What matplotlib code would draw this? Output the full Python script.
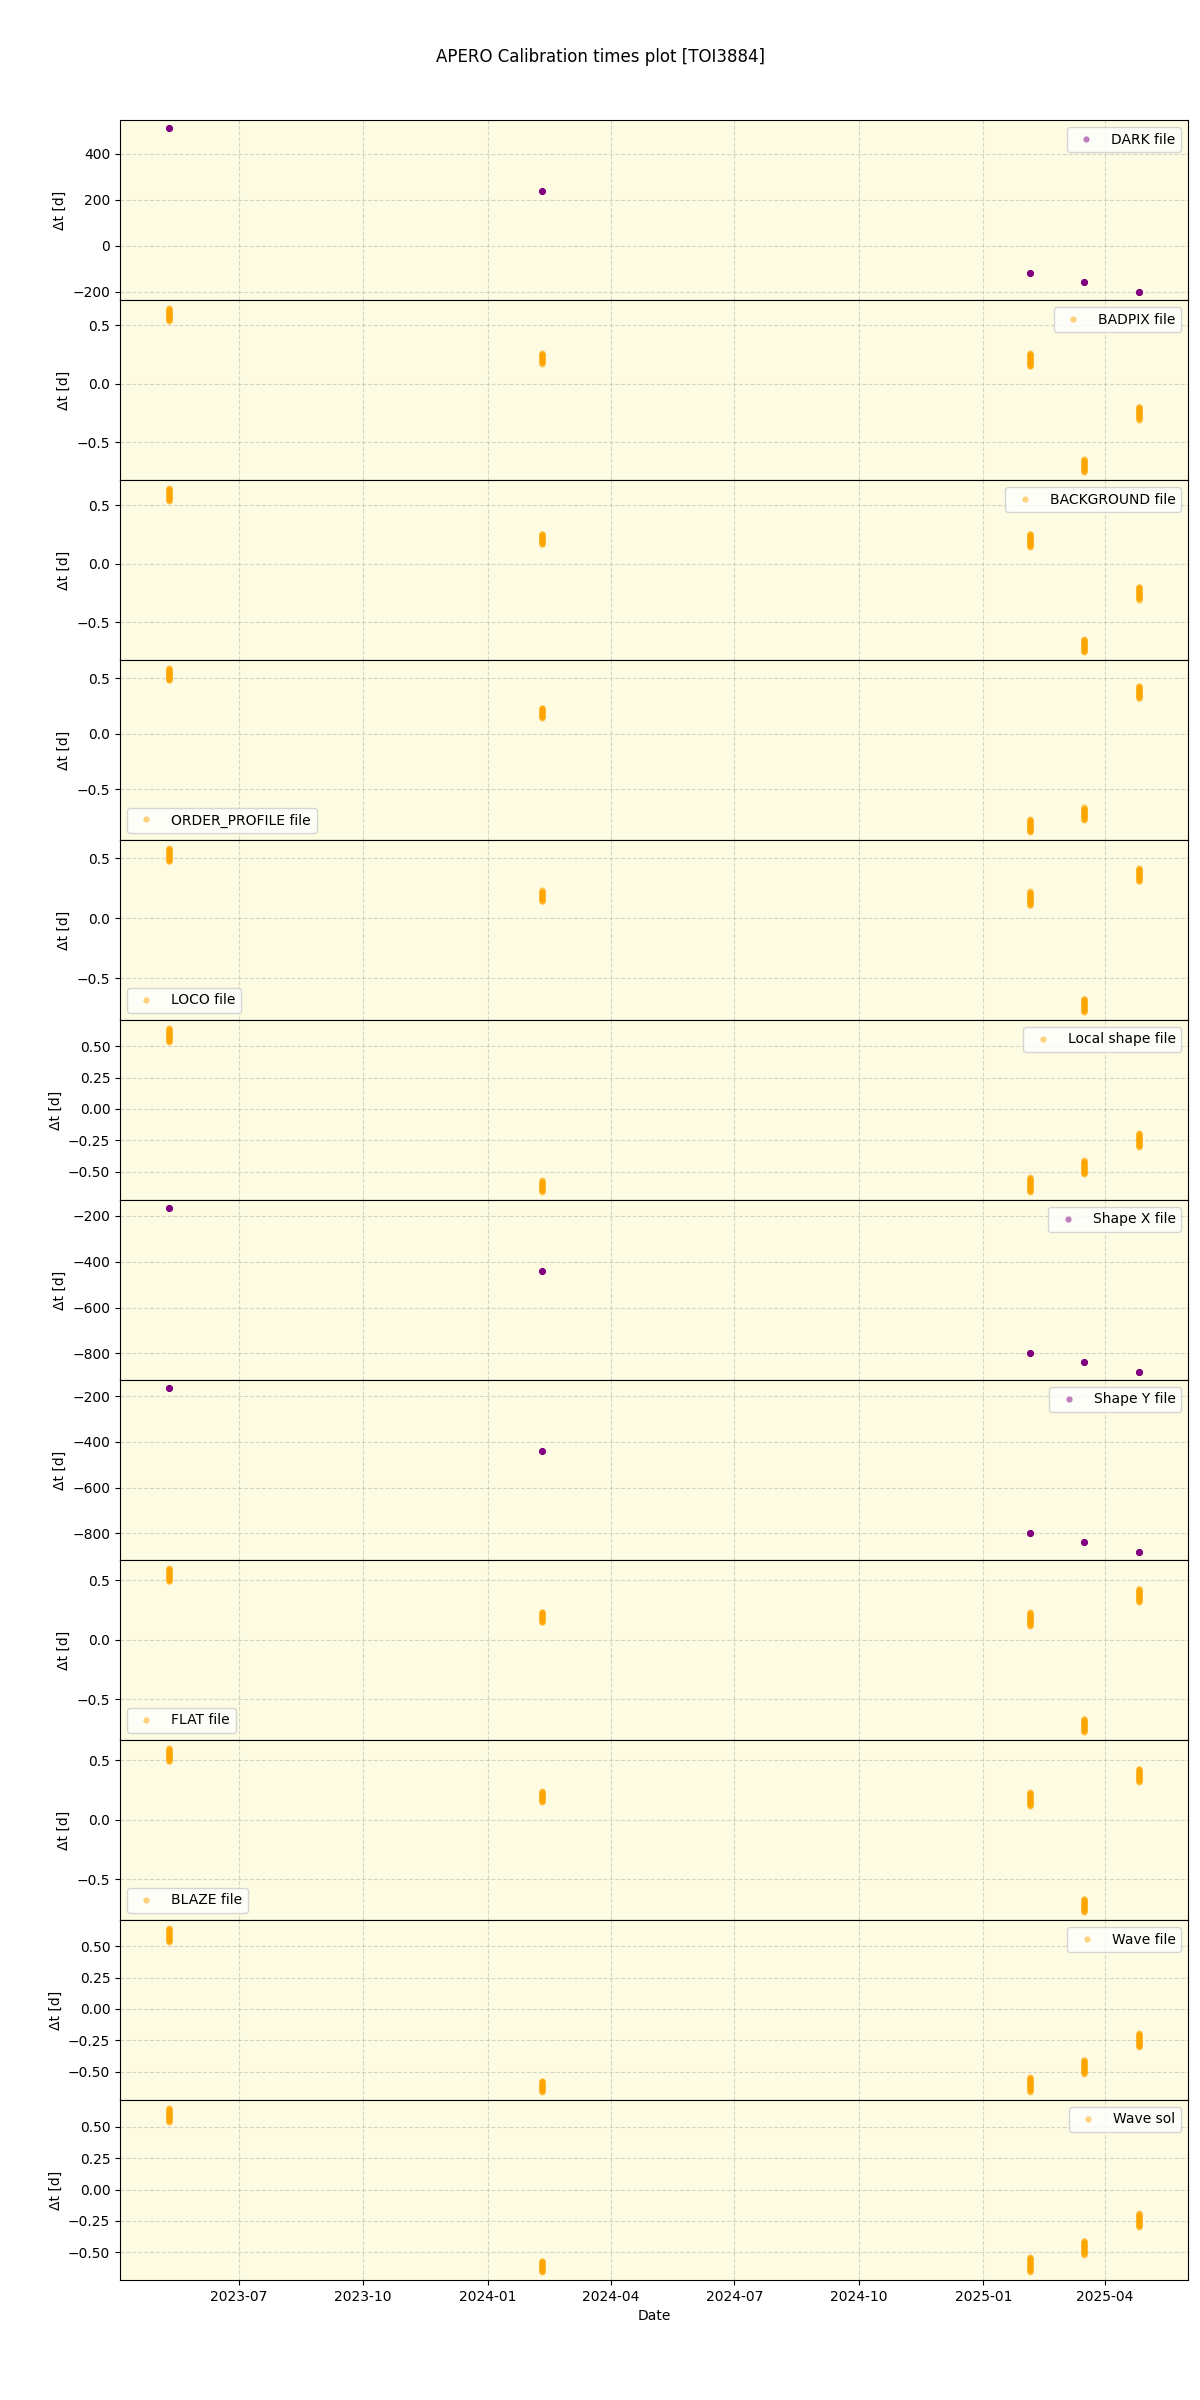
import matplotlib
matplotlib.use("Agg")
import matplotlib.pyplot as plt
import matplotlib.dates as mdates
import numpy as np
import pandas as pd

# observing nights (start of each sequence)
nights = ["2023-05-10 05:00", "2024-02-10 05:00", "2025-02-04 05:00",
          "2025-03-16 05:00", "2025-04-26 05:00"]

# time of each exposure after the start of its night [d]
obs_offsets = [
    [0.000, 0.005, 0.010, 0.015, 0.020, 0.025, 0.030, 0.035, 0.040, 0.045, 0.050, 0.055,
     0.060, 0.065, 0.070, 0.075, 0.080, 0.085, 0.090, 0.095, 0.100, 0.105, 0.110],
    [0.000, 0.005, 0.010, 0.015, 0.020, 0.025, 0.030, 0.035, 0.040, 0.045, 0.050, 0.055,
     0.060, 0.065, 0.070, 0.075, 0.080, 0.085, 0.090],
    [0.000, 0.005, 0.010, 0.015, 0.020, 0.025, 0.030, 0.035, 0.040, 0.045, 0.050, 0.055,
     0.060, 0.065, 0.070, 0.075, 0.080, 0.085, 0.090, 0.095, 0.100, 0.105, 0.110, 0.115],
    [0.000, 0.005, 0.010, 0.015, 0.020, 0.025, 0.030, 0.035, 0.040, 0.045, 0.050, 0.055,
     0.060, 0.065, 0.070, 0.075, 0.080, 0.085, 0.090, 0.095, 0.100, 0.105, 0.110],
    [0.000, 0.005, 0.010, 0.015, 0.020, 0.025, 0.030, 0.035, 0.040, 0.045, 0.050, 0.055,
     0.060, 0.065, 0.070, 0.075, 0.080, 0.085, 0.090, 0.095, 0.100, 0.105, 0.110],
]

labels = ["DARK file", "BADPIX file", "BACKGROUND file", "ORDER_PROFILE file",
          "LOCO file", "Local shape file", "Shape X file", "Shape Y file",
          "FLAT file", "BLAZE file", "Wave file", "Wave sol"]

colors = ["purple", "orange", "orange", "orange", "orange", "orange",
          "purple", "purple", "orange", "orange", "orange", "orange"]

legend_loc = ["upper right", "upper right", "upper right", "lower left",
              "lower left", "upper right", "upper right", "upper right",
              "lower left", "lower left", "upper right", "upper right"]

# dt of the first exposure of each night, per calibration [d]
dt_first = [
    [512, 238, -118, -157, -201],
    [0.647, 0.263, 0.263, -0.645, -0.197],
    [0.647, 0.259, 0.259, -0.641, -0.195],
    [0.590, 0.234, -0.766, -0.662, 0.431],
    [0.584, 0.231, 0.223, -0.671, 0.419],
    [0.644, -0.569, -0.545, -0.409, -0.193],
    [-166, -442, -800, -839, -880],
    [-165, -442, -800, -838, -881],
    [0.602, 0.237, 0.232, -0.664, 0.429],
    [0.602, 0.240, 0.232, -0.664, 0.429],
    [0.644, -0.572, -0.545, -0.407, -0.193],
    [0.650, -0.567, -0.540, -0.409, -0.190],
]

fig, axes = plt.subplots(len(labels), 1, figsize=(12, 24), sharex=True)
plt.subplots_adjust(left=0.1, right=0.99, top=0.95, bottom=0.05, hspace=0)

for i, ax in enumerate(axes):
    xs = []
    ys = []
    for n, start in enumerate(nights):
        t0 = pd.Timestamp(start)
        for off in obs_offsets[n]:
            xs.append(t0 + pd.Timedelta(days=off))
            ys.append(dt_first[i][n] - off)
    ax.set_facecolor("#fdfce2")
    ax.plot(xs, ys, "o", ms=4.5, mew=0, color=colors[i], alpha=0.5, label=labels[i])
    ax.grid(True, linestyle="--", alpha=0.5)
    ax.set_ylabel("Δt [d]")
    ax.legend(loc=legend_loc[i])

axes[-1].xaxis.set_major_locator(mdates.MonthLocator(bymonth=[1, 4, 7, 10]))
axes[-1].xaxis.set_major_formatter(mdates.DateFormatter("%Y-%m"))
axes[-1].set_xlabel("Date")

fig.suptitle("APERO Calibration times plot [TOI3884]")
fig.savefig("out.png", dpi=100)
